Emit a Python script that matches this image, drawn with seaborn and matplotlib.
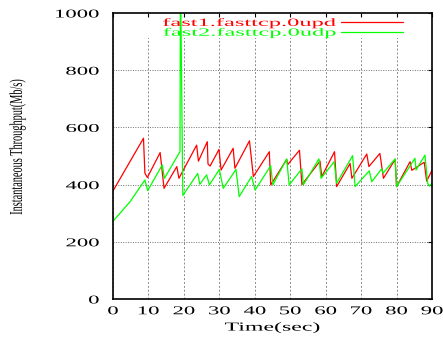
import matplotlib
matplotlib.use("Agg")
import matplotlib.pyplot as plt
import matplotlib.patheffects as pe
from matplotlib.transforms import Affine2D
from matplotlib.patches import Rectangle
import pandas as pd
import seaborn as sns

# Instantaneous throughput of the two flows (time in s, rate in Mb/s)
fast1_time = [0, 8.6, 9.0, 9.7, 13.3, 14.4, 18.0, 18.6, 23.6, 24.1, 26.6, 26.8,
              27.4, 29.9, 30.5, 33.9, 34.4, 38.5, 39.6, 44.1, 44.5, 49.0, 49.3,
              52.6, 53.3, 58.4, 58.9, 62.5, 63.1, 66.9, 67.4, 71.6, 72.2, 75.3,
              76.3, 79.6, 80.0, 83.8, 84.3, 87.8, 88.5, 90.0]
fast1_rate = [378, 562, 440, 425, 512, 387, 463, 422, 538, 482, 550, 472,
              465, 523, 451, 527, 457, 553, 428, 515, 399, 488, 470,
              520, 400, 482, 428, 515, 393, 474, 422, 507, 463, 509,
              422, 488, 393, 480, 450, 478, 412, 450]

fast2_time = [0, 4.8, 9.0, 9.8, 13.9, 14.5, 18.9, 19.0, 19.15, 19.7, 23.9, 24.5,
              26.4, 27.2, 30.0, 31.1, 34.7, 35.6, 39.1, 40.1, 44.5, 45.1, 49.0,
              49.7, 53.3, 53.7, 58.1, 58.7, 62.4, 63.1, 67.6, 68.3, 72.3, 73.0,
              75.8, 76.2, 79.6, 80.0, 85.2, 85.5, 88.0, 88.8, 89.3, 90.0]
fast2_rate = [272, 340, 416, 379, 469, 422, 515, 1000, 1000, 362, 439, 401,
              434, 399, 453, 387, 453, 358, 428, 381, 466, 399, 490,
              399, 455, 399, 490, 422, 480, 405, 501, 393, 448, 410,
              455, 440, 490, 393, 492, 451, 503, 404, 395, 405]

series_names = ["fast1.fasttcp.0upd", "fast2.fasttcp.0udp"]
series_colors = ["#ff0000", "#00ff00"]
x_ticks = list(range(0, 91, 10))
y_ticks = list(range(0, 1001, 200))


class Stretch(pe.AbstractPathEffect):
    """Widen (or narrow) glyphs along the reading direction about an anchor."""

    def __init__(self, sx, anchor=0.5):
        super().__init__()
        self._sx = sx
        self._anchor = anchor

    def draw_path(self, renderer, gc, tpath, affine, rgbFace=None):
        ext = tpath.get_extents()
        x0 = ext.x0 + self._anchor * (ext.x1 - ext.x0)
        widen = Affine2D().translate(-x0, 0).scale(self._sx, 1).translate(x0, 0)
        renderer.draw_path(gc, tpath, widen + affine, rgbFace)


sns.set_theme(style="white")
plt.rcParams["font.family"] = ["Liberation Serif", "DejaVu Serif"]

frames = [
    pd.DataFrame({"Time": fast1_time, "Throughput": fast1_rate, "flow": series_names[0]}),
    pd.DataFrame({"Time": fast2_time, "Throughput": fast2_rate, "flow": series_names[1]}),
]
df = pd.concat(frames, ignore_index=True)

W, H = 443, 339
fig = plt.figure(figsize=(W / 100, H / 100), dpi=100)
fig.patch.set_facecolor("white")
ax = fig.add_axes([113 / W, 1 - 299 / H, 319 / W, 286 / H])
ax.set_facecolor("white")

sns.lineplot(data=df, x="Time", y="Throughput", hue="flow",
             palette=dict(zip(series_names, series_colors)),
             estimator=None, errorbar=None, sort=False, legend=False,
             linewidth=0.9, ax=ax)

ax.set_xlim(0, 90)
ax.set_ylim(0, 1000)
ax.set_xticks(x_ticks)
ax.set_yticks(y_ticks)

ax.set_axisbelow(True)
ax.xaxis.grid(True, color="#8a8a8a", linestyle=(0, (2, 2)), linewidth=0.7)
ax.yaxis.grid(True, color="#707070", linestyle=(0, (1, 1.5)), linewidth=0.7)

for side in ax.spines.values():
    side.set_visible(True)
    side.set_color("black")
    side.set_linewidth(1.2)

ax.tick_params(axis="both", direction="in", length=3, width=0.8,
               top=True, right=True, colors="black", labelsize=8.6)
ax.tick_params(axis="x", pad=4.5)
ax.tick_params(axis="y", pad=10)

for lab in ax.get_xticklabels():
    lab.set_path_effects([Stretch(1.9, 0.5)])
for lab in ax.get_yticklabels():
    lab.set_path_effects([Stretch(1.9, 1.0)])

ax.set_xlabel("Time(sec)", fontsize=8.8, color="black")
ax.xaxis.label.set_path_effects([Stretch(1.95, 0.5)])
ax.xaxis.set_label_coords(0.5, -0.10)
ax.xaxis.label.set_va("center")

ax.set_ylabel("Instantaneous Throughput(Mb/s)", fontsize=13, color="black")
ax.yaxis.label.set_path_effects([Stretch(0.57, 0.5)])
ax.yaxis.set_label_coords(-0.30, 0.53)
ax.yaxis.label.set_va("center")

leg = ax.legend(ax.get_lines()[:2], series_names, loc="upper right",
                bbox_to_anchor=(0.909, 0.982), frameon=False, markerfirst=False,
                handlelength=5.6, handletextpad=0.45, labelspacing=0.0,
                borderpad=0, borderaxespad=0, fontsize=8.0,
                labelcolor="linecolor")
for t in leg.get_texts():
    t.set_path_effects([Stretch(2.2, 1.0)])

# keep the key area free of grid lines
key_clip = Rectangle((0, 0), 1, 0.912, transform=ax.transAxes)
for g in ax.xaxis.get_gridlines() + ax.yaxis.get_gridlines():
    g.set_clip_path(key_clip)

fig.savefig("out.png", dpi=100, facecolor="white")
